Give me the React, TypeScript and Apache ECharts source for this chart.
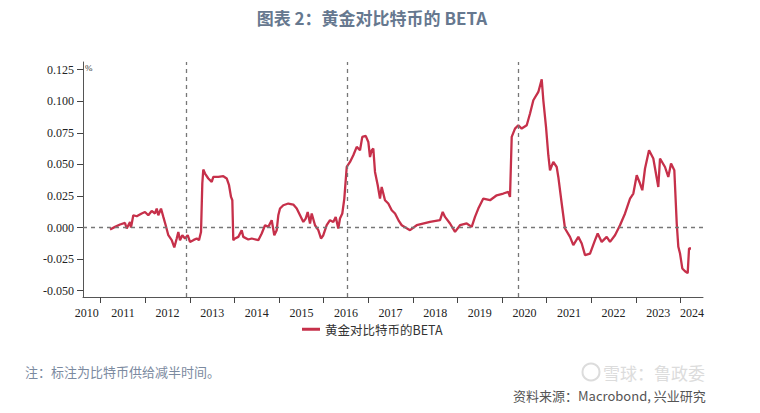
import React, { useEffect, useRef } from "react";
import * as echarts from "echarts";

// Decimal years (x) and BETA values (y)
const years: number[] = [
  2011.209, 2011.321, 2011.433, 2011.545, 2011.583, 2011.657, 2011.679, 2011.731, 2011.807, 2011.919,
  2011.993, 2012.067, 2012.143, 2012.217, 2012.256, 2012.291, 2012.352, 2012.404, 2012.457, 2012.516,
  2012.592, 2012.650, 2012.704, 2012.740, 2012.778, 2012.830, 2012.890, 2012.951, 2013.002, 2013.076,
  2013.152, 2013.204, 2013.249, 2013.278, 2013.300, 2013.339, 2013.413, 2013.489, 2013.525, 2013.637,
  2013.749, 2013.825, 2013.877, 2013.922, 2013.951, 2013.973, 2014.011, 2014.085, 2014.161, 2014.197,
  2014.309, 2014.386, 2014.534, 2014.610, 2014.684, 2014.758, 2014.834, 2014.892, 2014.946, 2014.982,
  2015.020, 2015.094, 2015.206, 2015.318, 2015.395, 2015.469, 2015.543, 2015.596, 2015.641, 2015.693,
  2015.731, 2015.805, 2015.879, 2015.939, 2015.991, 2016.067, 2016.141, 2016.215, 2016.269, 2016.327,
  2016.365, 2016.417, 2016.462, 2016.516, 2016.590, 2016.664, 2016.740, 2016.814, 2016.865, 2016.942,
  2017.000, 2017.038, 2017.076, 2017.112, 2017.150, 2017.211, 2017.262, 2017.300, 2017.374, 2017.448,
  2017.525, 2017.599, 2017.688, 2017.749, 2017.935, 2018.085, 2018.383, 2018.608, 2018.668, 2018.720,
  2018.832, 2018.944, 2019.056, 2019.206, 2019.318, 2019.392, 2019.466, 2019.578, 2019.729, 2019.879,
  2020.027, 2020.139, 2020.177, 2020.215, 2020.289, 2020.363, 2020.439, 2020.552, 2020.626, 2020.700,
  2020.812, 2020.888, 2020.924, 2020.984, 2021.036, 2021.074, 2021.148, 2021.224, 2021.260, 2021.336,
  2021.410, 2021.522, 2021.596, 2021.709, 2021.785, 2021.859, 2021.971, 2022.083, 2022.143, 2022.233,
  2022.345, 2022.419, 2022.531, 2022.643, 2022.756, 2022.868, 2022.942, 2023.018, 2023.092, 2023.143,
  2023.204, 2023.294, 2023.390, 2023.502, 2023.540, 2023.652, 2023.726, 2023.787, 2023.861, 2023.915,
  2023.951, 2023.989, 2024.040, 2024.101, 2024.161, 2024.191, 2024.235,
];

const beta: number[] = [
  -0.0016, 0.0005, 0.0024, 0.0036, -0.0008, 0.0044, 0.0, 0.0097, 0.0089, 0.0111,
  0.0123, 0.0097, 0.0131, 0.0111, 0.015, 0.0097, 0.015, 0.0084, 0.0018, -0.0061,
  -0.01, -0.0158, -0.0087, -0.0035, -0.01, -0.0061, -0.0087, -0.0061, -0.0114, -0.01,
  -0.0087, -0.01, -0.0035, 0.0348, 0.0459, 0.0427, 0.0388, 0.0361, 0.04, 0.04,
  0.0406, 0.0388, 0.0335, 0.0242, 0.0216, -0.01, -0.0087, -0.0074, -0.0021, -0.0074,
  -0.0095, -0.0087, -0.01, -0.0047, 0.0018, 0.0005, 0.0058, -0.0061, -0.0021, 0.0097,
  0.015, 0.0176, 0.019, 0.0182, 0.015, 0.0097, 0.0044, 0.0071, 0.0123, 0.0032,
  0.0111, 0.0018, -0.0021, -0.0087, -0.0061, 0.0018, 0.0058, 0.0044, 0.0084, -0.0008,
  0.0071, 0.0111, 0.0229, 0.0479, 0.0519, 0.0572, 0.0638, 0.0611, 0.0717, 0.0725,
  0.0677, 0.0558, 0.0611, 0.0625, 0.044, 0.0335, 0.0229, 0.0321, 0.0216, 0.019,
  0.0137, 0.0111, 0.005, 0.0018, -0.0021, 0.0018, 0.0044, 0.0058, 0.0123, 0.0084,
  0.0032, -0.0035, 0.0018, 0.0032, 0.0005, 0.0084, 0.015, 0.0229, 0.0216, 0.0255,
  0.0269, 0.0282, 0.0242, 0.0717, 0.0783, 0.0809, 0.0783, 0.0809, 0.0902, 0.1007,
  0.1073, 0.1173, 0.1007, 0.0796, 0.0572, 0.0453, 0.0519, 0.0479, 0.04, 0.019,
  -0.0008, -0.0074, -0.014, -0.0074, -0.0127, -0.0219, -0.0206, -0.01, -0.0047, -0.0114,
  -0.0074, -0.0114, -0.0061, 0.0018, 0.0111, 0.0229, 0.0269, 0.0414, 0.0348, 0.0295,
  0.0467, 0.0611, 0.0546, 0.0321, 0.0546, 0.0479, 0.04, 0.0506, 0.0453, 0.0032,
  -0.0153, -0.0206, -0.0324, -0.0346, -0.0361, -0.0166, -0.0166,
];

// Bitcoin supply halving dates (decimal years)
const halvingDates: number[] = [2012.91, 2016.52, 2020.36];

// Axis ticks / labels
const xTickYears: number[] = [2011, 2012, 2013, 2014, 2015, 2016, 2017, 2018, 2019, 2020, 2021, 2022, 2023, 2024];
const xLabelYears: string[] = ["2010", "2011", "2012", "2013", "2014", "2015", "2016", "2017", "2018", "2019", "2020", "2021", "2022", "2023", "2024"];
const xLabelPositions: number[] = [2010.686, 2011.5, 2012.5, 2013.5, 2014.5, 2015.5, 2016.5, 2017.5, 2018.5, 2019.5, 2020.5, 2021.5, 2022.5, 2023.5, 2024.26];
const yTickValues: number[] = [-0.05, -0.025, 0, 0.025, 0.05, 0.075, 0.1, 0.125];

const seriesName = "黄金对比特币的BETA";

export default function App() {
  const ref = useRef<HTMLDivElement>(null);

  useEffect(() => {
    if (!ref.current) return;
    const chart = echarts.init(ref.current, undefined, { renderer: "svg" });
    const points = years.map((y, i) => [y, beta[i]]);
    const labelMap: Record<string, string> = {};
    xLabelPositions.forEach((p, i) => {
      labelMap[p.toFixed(3)] = xLabelYears[i];
    });
    const axisFont = "'Liberation Serif', 'DejaVu Serif', serif";

    chart.setOption({
      animation: false,
      backgroundColor: "#ffffff",
      grid: { left: 83, right: 57, top: 62, bottom: 116 },
      xAxis: {
        type: "value",
        min: 2010.603,
        max: 2024.504,
        splitLine: { show: false },
        axisLine: { show: true, onZero: false, lineStyle: { color: "#555", width: 1 } },
        axisTick: {
          show: true,
          inside: false,
          length: 6,
          customValues: xTickYears,
          lineStyle: { color: "#444" },
        },
        axisLabel: {
          customValues: xLabelPositions,
          formatter: (v: number) => labelMap[v.toFixed(3)] ?? "",
          color: "#222",
          fontFamily: axisFont,
          fontSize: 12,
          margin: 10,
        },
      },
      yAxis: {
        type: "value",
        min: -0.055,
        max: 0.131,
        splitLine: { show: false },
        axisLine: { show: true, lineStyle: { color: "#555", width: 1 } },
        axisTick: {
          show: true,
          length: 6,
          customValues: yTickValues,
          lineStyle: { color: "#444" },
        },
        axisLabel: {
          customValues: yTickValues,
          formatter: (v: number) => v.toFixed(3),
          color: "#222",
          fontFamily: axisFont,
          fontSize: 12,
          margin: 9,
        },
      },
      legend: {
        show: true,
        left: 297,
        top: 318,
        icon: "rect",
        itemWidth: 18,
        itemHeight: 3,
        itemGap: 10,
        textStyle: {
          fontFamily: "'Noto Sans CJK SC', sans-serif",
          fontSize: 12.5,
          color: "#333",
        },
        data: [seriesName],
      },
      series: [
        {
          name: seriesName,
          type: "line",
          data: points,
          showSymbol: false,
          symbol: "none",
          lineStyle: { color: "#c6304a", width: 2.3 },
          itemStyle: { color: "#c6304a" },
          z: 3,
          markLine: {
            silent: true,
            symbol: ["none", "none"],
            label: { show: false },
            lineStyle: { color: "#777", type: [4, 4], width: 1.3 },
            data: [
              ...halvingDates.map((d) => ({ xAxis: d })),
              { yAxis: 0 },
            ],
          },
        },
      ],
      graphic: [
        {
          type: "text",
          x: 372,
          y: 17,
          style: {
            text: "图表 2：黄金对比特币的 BETA",
            fontFamily: "'Noto Sans CJK SC', sans-serif",
            fontSize: 17,
            fontWeight: "bold",
            fill: "#66788f",
            textAlign: "center",
            textVerticalAlign: "middle",
          },
        },
        {
          type: "text",
          x: 85,
          y: 63,
          style: {
            text: "%",
            fontFamily: axisFont,
            fontSize: 9,
            fill: "#333",
          },
        },
        {
          type: "text",
          x: 25,
          y: 371,
          style: {
            text: "注：标注为比特币供给减半时间。",
            fontFamily: "'Noto Sans CJK SC', sans-serif",
            fontSize: 13,
            fill: "#7b8aa0",
            textVerticalAlign: "middle",
          },
        },
        {
          type: "text",
          x: 603,
          y: 372,
          z: 1,
          style: {
            text: "雪球：鲁政委",
            fontFamily: "'Noto Sans CJK SC', sans-serif",
            fontSize: 17,
            fill: "#dcdcdc",
            textVerticalAlign: "middle",
          },
        },
        {
          type: "circle",
          shape: { cx: 591, cy: 372, r: 8.5 },
          z: 1,
          style: { fill: "none", stroke: "#dcdcdc", lineWidth: 2 },
        },
        {
          type: "text",
          x: 513,
          y: 395,
          z: 10,
          style: {
            text: "资料来源：Macrobond, 兴业研究",
            fontFamily: "'Noto Sans CJK SC', sans-serif",
            fontSize: 13,
            fill: "#555",
            textVerticalAlign: "middle",
          },
        },
      ],
    });

    return () => {
      chart.dispose();
    };
  }, []);

  return (
    <div
      ref={ref}
      style={{ position: "fixed", left: 0, top: 0, width: 760, height: 413, background: "#fff" }}
    />
  );
}
